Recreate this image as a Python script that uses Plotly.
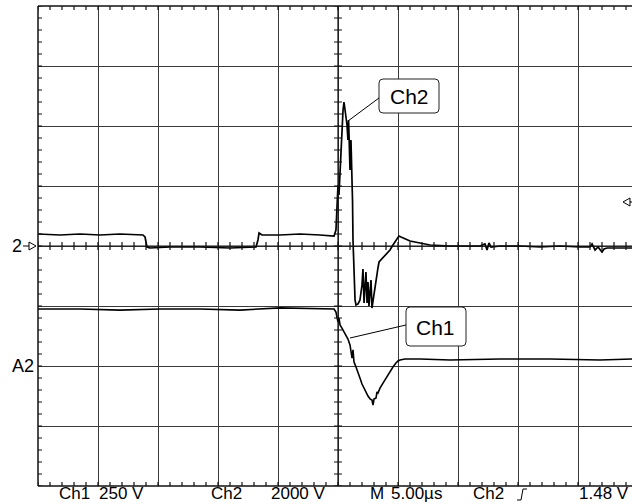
import plotly.graph_objects as go

# ---- data (time in microseconds, voltage in volts) ----
ch2_time = [-25.0, -23.17, -21.5, -19.83, -18.17, -16.25, -16.08, -15.92, -15.67, -14.0, -11.5, -9.0, -6.83,
            -6.67, -6.58, -6.33, -4.83, -3.17, -1.5, -0.33, -0.17, -0.08, 0.0, 0.08, 0.17, 0.25, 0.33, 0.42,
            0.5, 0.58, 0.67, 0.75, 0.83, 0.88, 0.92, 1.0, 1.08, 1.17, 1.21, 1.25, 1.33, 1.42, 1.5, 1.67, 1.83,
            2.0, 2.08, 2.17, 2.25, 2.33, 2.42, 2.5, 2.58, 2.67, 2.75, 2.83, 2.92, 3.0, 3.08, 3.17, 3.25, 3.33,
            3.42, 3.58, 3.75, 4.0, 4.33, 4.58, 4.75, 4.92, 5.08, 5.25, 5.58, 6.0, 6.83, 7.67, 9.33, 11.83,
            12.25, 12.42, 12.58, 12.75, 13.5, 15.17, 16.83, 18.5, 20.17, 21.0, 21.17, 21.42, 21.67, 22.0,
            22.17, 22.42, 22.83, 23.5, 24.5]
ch2_volts = [400, 367, 400, 367, 400, 367, 300, -33, -67, -33, -33, -67, -33,
             200, 433, 367, 367, 400, 367, 333, 533, 1533, 2033, 1700, 2533, 3467, 4200, 4533,
             4800, 4600, 4267, 4033, 3533, 4200, 3700, 2533, 3533, 2367, 1533, 200, -800, -1800, -1967, -1933, -1800,
             -1300, -767, -1900, -1367, -867, -1900, -1200, -2000, -1367, -1133, -2067, -1800, -1533, -1367, -1033, -900, -733,
             -533, -467, -400, -300, -133, 33, 133, 267, 333, 300, 233, 167, 100, 33, 0, 0,
             67, -133, 100, -33, 0, 0, -33, 0, -33, -33, 67, -133, -33, -200,
             -100, -67, -67, -67, -67]

ch1_time = [-25.0, -21.5, -18.17, -14.83, -11.5, -8.17, -4.83, -1.5, -0.33, -0.17, -0.08, 0.0, 0.08, 0.17,
            0.33, 0.5, 0.67, 0.83, 1.0, 1.08, 1.17, 1.25, 1.33, 1.5, 1.67, 1.83, 2.0, 2.17, 2.33, 2.5, 2.67,
            2.83, 2.92, 3.0, 3.17, 3.25, 3.33, 3.5, 3.75, 4.0, 4.33, 4.58, 4.83, 5.0, 5.17, 5.58, 6.83, 9.33,
            13.5, 17.67, 21.83, 24.5]
ch1_volts = [237.5, 237.5, 233, 237.5, 237.5, 233, 242, 237.5, 237.5, 225, 208, 183, 200, 171,
             158, 142, 125, 112.5, 87.5, 58, 33, 67, 17, -4, -33, -50, -75, -92, -112.5, -125, -137.5,
             -142, -162.5, -137.5, -133, -108, -112.5, -92, -71, -50, -25, -4, 12.5, 21, 25, 29, 29, 25,
             29, 29, 25, 29]

ch1_scale = 250.0    # V/div
ch2_scale = 2000.0   # V/div
ch1_ref_div = -2.0   # Ch1 reference level (A2 marker)
time_per_div = 5.0   # us/div

bottom_labels = ["Ch1", "250 V", "Ch2", "2000 V", "M", "5.00\u00b5s", "Ch2", "1.48 V"]

# ---- geometry helpers (page pixels -> paper coords) ----
W, H = 632, 504
L, T, B = 38, 6, 18
PW, PH = W - L, H - T - B


def P(px, py):
    return (px - L) / PW, (H - B - py) / PH


def path_px(points, close=False):
    s = ""
    for i, (px, py) in enumerate(points):
        x, y = P(px, py)
        s += ("M" if i == 0 else "L") + f"{x:.5f},{y:.5f} "
    if close:
        s += "Z"
    return s


def rounded_box(x0, y0, x1, y1, r=4):
    a = P(x0 + r, y0); b = P(x1 - r, y0); c = P(x1, y0); d = P(x1, y0 + r)
    e = P(x1, y1 - r); f = P(x1, y1); g = P(x1 - r, y1); h = P(x0 + r, y1)
    i = P(x0, y1); j = P(x0, y1 - r); k = P(x0, y0 + r); l = P(x0, y0)
    s = f"M{a[0]},{a[1]} L{b[0]},{b[1]} Q{c[0]},{c[1]} {d[0]},{d[1]} L{e[0]},{e[1]} "
    s += f"Q{f[0]},{f[1]} {g[0]},{g[1]} L{h[0]},{h[1]} Q{i[0]},{i[1]} {j[0]},{j[1]} "
    s += f"L{k[0]},{k[1]} Q{l[0]},{l[1]} {a[0]},{a[1]} Z"
    return s


fig = go.Figure()

y2 = [v / ch2_scale for v in ch2_volts]
y1 = [v / ch1_scale + ch1_ref_div for v in ch1_volts]

fig.add_trace(go.Scatter(x=ch2_time, y=y2, mode="lines", line=dict(color="black", width=1.7),
                         hoverinfo="skip", showlegend=False))
fig.add_trace(go.Scatter(x=ch1_time, y=y1, mode="lines", line=dict(color="black", width=1.6),
                         hoverinfo="skip", showlegend=False))

xmin = -25.0
xmax = xmin + PW / 60.0 * time_per_div
shapes = []
line_col = "#111111"
grid_col = "#3a3a3a"

# borders (left, top, bottom)
shapes.append(dict(type="line", xref="paper", yref="paper", x0=0, x1=0, y0=0, y1=1,
                   line=dict(color=line_col, width=1.5)))
shapes.append(dict(type="line", xref="paper", yref="paper", x0=0, x1=1, y0=1, y1=1,
                   line=dict(color=line_col, width=1.5)))
shapes.append(dict(type="line", xref="paper", yref="paper", x0=0, x1=1, y0=0, y1=0,
                   line=dict(color=line_col, width=1.5)))
# center cross
shapes.append(dict(type="line", xref="x", yref="y", x0=0, x1=0, y0=-4, y1=4,
                   line=dict(color=line_col, width=1.2)))
shapes.append(dict(type="line", xref="x", yref="y", x0=xmin, x1=xmax, y0=0, y1=0,
                   line=dict(color=line_col, width=1.2)))

# minor ticks
tx = 4 / 60.0 * time_per_div  # 4 px in time units
ty = 4 / 60.0                 # 4 px in div units
seg_left, seg_cv = "", ""
k = -20
while k <= 20:
    yv = k / 5.0
    seg_left += f"M{xmin},{yv} L{xmin + tx},{yv} "
    seg_cv += f"M{-tx},{yv} L{tx},{yv} "
    k += 1
seg_top, seg_bot, seg_ch = "", "", ""
t = -25
while t <= xmax:
    seg_top += f"M{t},4 L{t},{4 - ty} "
    seg_bot += f"M{t},-4 L{t},{-4 + ty} "
    seg_ch += f"M{t},{-ty} L{t},{ty} "
    t += 1
for s in (seg_left, seg_cv, seg_top, seg_bot, seg_ch):
    shapes.append(dict(type="path", xref="x", yref="y", path=s, line=dict(color=line_col, width=1.2)))

# left markers: "2 ->" arrow and right trigger marker
shapes.append(dict(type="path", xref="paper", yref="paper", path=path_px([(23, 246), (29, 246)]),
                   line=dict(color="black", width=1)))
shapes.append(dict(type="path", xref="paper", yref="paper",
                   path=path_px([(29, 242), (36, 246), (29, 250)], close=True),
                   line=dict(color="black", width=1)))
shapes.append(dict(type="path", xref="paper", yref="paper",
                   path=path_px([(630, 198), (623, 202), (630, 206)], close=True),
                   line=dict(color="black", width=1)))
shapes.append(dict(type="path", xref="paper", yref="paper", path=path_px([(630, 202), (633, 202)]),
                   line=dict(color="black", width=1)))
# trigger edge symbol
shapes.append(dict(type="path", xref="paper", yref="paper",
                   path=path_px([(517, 500), (521, 500), (523, 489), (527, 489)]),
                   line=dict(color="black", width=1)))

# callouts
shapes.append(dict(type="path", xref="paper", yref="paper", path=rounded_box(379, 79, 439, 113),
                   line=dict(color="#222222", width=1), fillcolor="white", layer="above"))
shapes.append(dict(type="path", xref="paper", yref="paper", path=path_px([(379, 98), (348, 121)]),
                   line=dict(color="black", width=1)))
shapes.append(dict(type="path", xref="paper", yref="paper", path=rounded_box(406, 307, 466, 346),
                   line=dict(color="#222222", width=1), fillcolor="white", layer="above"))
shapes.append(dict(type="path", xref="paper", yref="paper", path=path_px([(406, 325), (350, 338)]),
                   line=dict(color="black", width=1)))

font = dict(family="Liberation Sans, Arial, sans-serif", size=18, color="black")
ann = []


def add_text(text, px, py, anchor="left", size=18, yanchor="middle"):
    x, y = P(px, py)
    ann.append(dict(text=text, x=x, y=y, xref="paper", yref="paper", xanchor=anchor, yanchor=yanchor,
                    showarrow=False, borderpad=0, font=dict(font, size=size)))


add_text("2", 23, 246, "right")
add_text("A2", 35, 366, "right")
add_text("Ch2", 409, 96, "center", 21)
add_text("Ch1", 436, 327, "center", 21)
bottom_pos = [(58, "left"), (98, "left"), (210, "left"), (270, "left"), (369, "left"), (390, "left"),
              (472, "left"), (630, "right")]
for lab, (px, anc) in zip(bottom_labels, bottom_pos):
    add_text(lab, px, 504, anc, 17, "bottom")

fig.update_layout(
    width=W, height=H,
    margin=dict(l=L, r=0, t=T, b=B, pad=0),
    paper_bgcolor="white", plot_bgcolor="white",
    xaxis=dict(range=[xmin, xmax], tick0=0, dtick=time_per_div, showgrid=True, gridcolor=grid_col,
               gridwidth=1, zeroline=False, showticklabels=False, ticks="", showline=False, fixedrange=True),
    yaxis=dict(range=[-4, 4], tick0=0, dtick=1, showgrid=True, gridcolor=grid_col, gridwidth=1,
               zeroline=False, showticklabels=False, ticks="", showline=False, fixedrange=True),
    shapes=shapes, annotations=ann, showlegend=False,
)

fig.write_html("out.html")
